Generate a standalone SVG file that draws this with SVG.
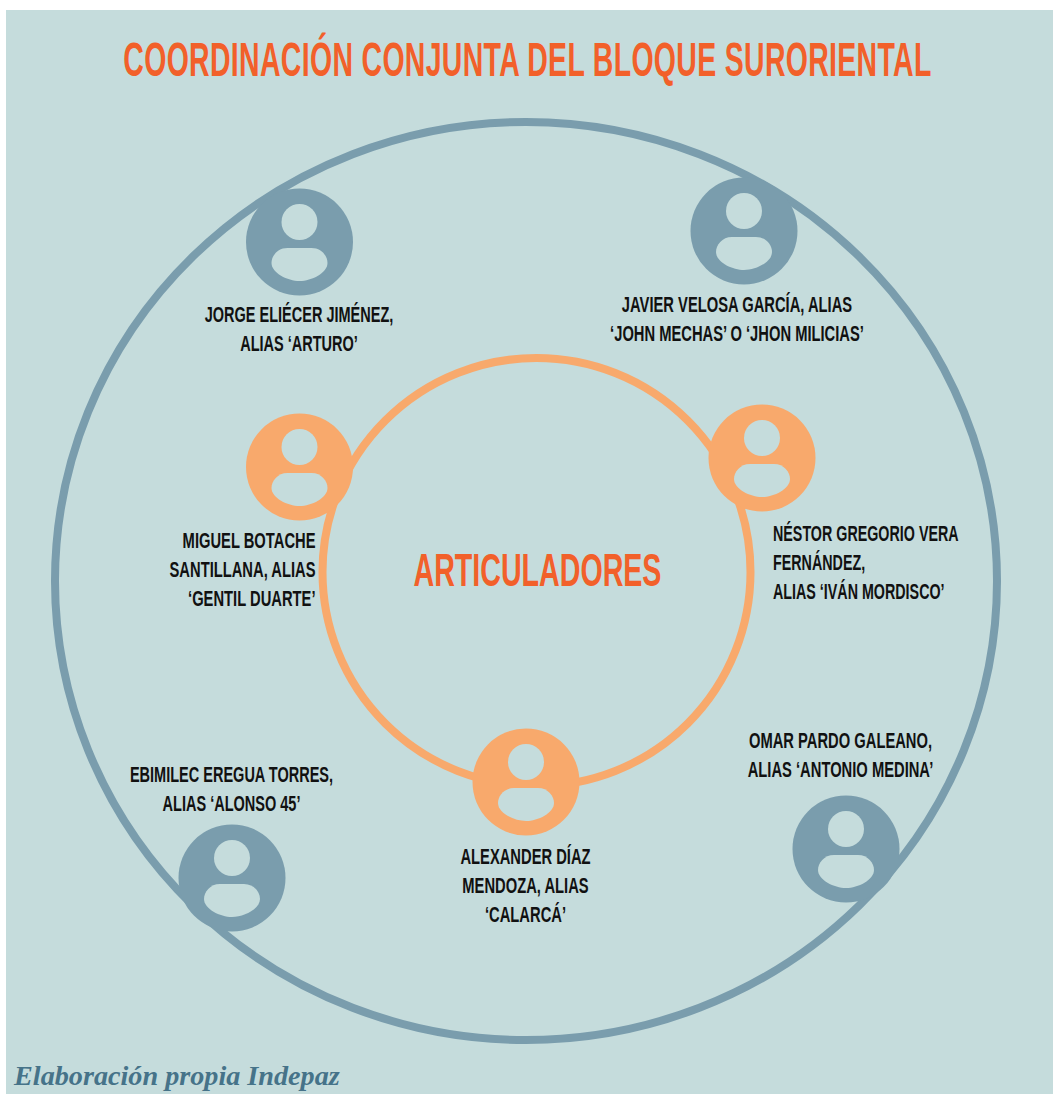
<svg xmlns="http://www.w3.org/2000/svg" width="1053" height="1094" viewBox="0 0 1053 1094">
<style>
.t{font-family:"Liberation Sans",Arial,sans-serif;font-weight:700;fill:#111;font-size:22px;text-anchor:middle}
.s{text-anchor:start}
.e{text-anchor:end}
.h{font-family:"Liberation Sans",Arial,sans-serif;font-weight:700;fill:#f2602a;text-anchor:middle}
.hd{fill:#c5dcdc}
.b{fill:#7a9dad}
.o{fill:#f8a96c}
</style>
<defs>
<g id="p"><circle r="53.5"/><circle class="hd" cx="0" cy="-20" r="18"/><path class="hd" d="M-12 6H12C22 6 28 14 28 21C28 31 12 39 0 39C-12 39 -28 31 -28 21C-28 14 -22 6 -12 6Z"/></g>
</defs>
<rect width="1053" height="1094" fill="#fff"/>
<rect x="6" y="10" width="1047" height="1084" fill="#c5dcdc"/>
<g id="connectors" fill="none">
<ellipse cx="526" cy="581" rx="471" ry="459" stroke="#7a9dad" stroke-width="8"/>
<ellipse cx="536.5" cy="572" rx="214" ry="214" stroke="#f8a96c" stroke-width="8"/>
</g>
<text class="h" transform="translate(527.5 76) scale(.58 1)" font-size="49" letter-spacing=".6">COORDINACIÓN CONJUNTA DEL BLOQUE SURORIENTAL</text>
<text class="h" transform="translate(537.5 586) scale(.622 1)" font-size="46">ARTICULADORES</text>
<g id="n1"><use href="#p" class="b" x="299.5" y="242"/><g transform="translate(299 322) scale(.66 1)"><text class="t">JORGE ELIÉCER JIMÉNEZ,</text><text class="t" y="29">ALIAS ‘ARTURO’</text></g></g>
<g id="n2"><use href="#p" class="b" x="744" y="231"/><g transform="translate(737 312) scale(.67 1)"><text class="t">JAVIER VELOSA GARCÍA, ALIAS</text><text class="t" y="29">‘JOHN MECHAS’ O ‘JHON MILICIAS’</text></g></g>
<g id="n3"><use href="#p" class="o" x="299.5" y="467"/><g transform="translate(315.5 548) scale(.67 1)"><text class="t e">MIGUEL BOTACHE</text><text class="t e" y="29">SANTILLANA, ALIAS</text><text class="t e" y="58">‘GENTIL DUARTE’</text></g></g>
<g id="n4"><use href="#p" class="o" x="762" y="458"/><g transform="translate(773 541) scale(.65 1)"><text class="t s">NÉSTOR GREGORIO VERA</text><text class="t s" y="29">FERNÁNDEZ,</text><text class="t s" y="58">ALIAS ‘IVÁN MORDISCO’</text></g></g>
<g id="n5"><use href="#p" class="o" x="526" y="782"/><g transform="translate(525.5 864) scale(.67 1)"><text class="t">ALEXANDER DÍAZ</text><text class="t" y="29">MENDOZA, ALIAS</text><text class="t" y="58">‘CALARCÁ’</text></g></g>
<g id="n6"><use href="#p" class="b" x="232" y="878"/><g transform="translate(231.5 782) scale(.66 1)"><text class="t">EBIMILEC EREGUA TORRES,</text><text class="t" y="29">ALIAS ‘ALONSO 45’</text></g></g>
<g id="n7"><use href="#p" class="b" x="846" y="849"/><g transform="translate(840.5 748) scale(.67 1)"><text class="t">OMAR PARDO GALEANO,</text><text class="t" y="29">ALIAS ‘ANTONIO MEDINA’</text></g></g>
<text x="14" y="1085" font-family="Liberation Serif,serif" font-style="italic" font-weight="700" font-size="28.2" fill="#467389">Elaboración propia Indepaz</text>
</svg>
